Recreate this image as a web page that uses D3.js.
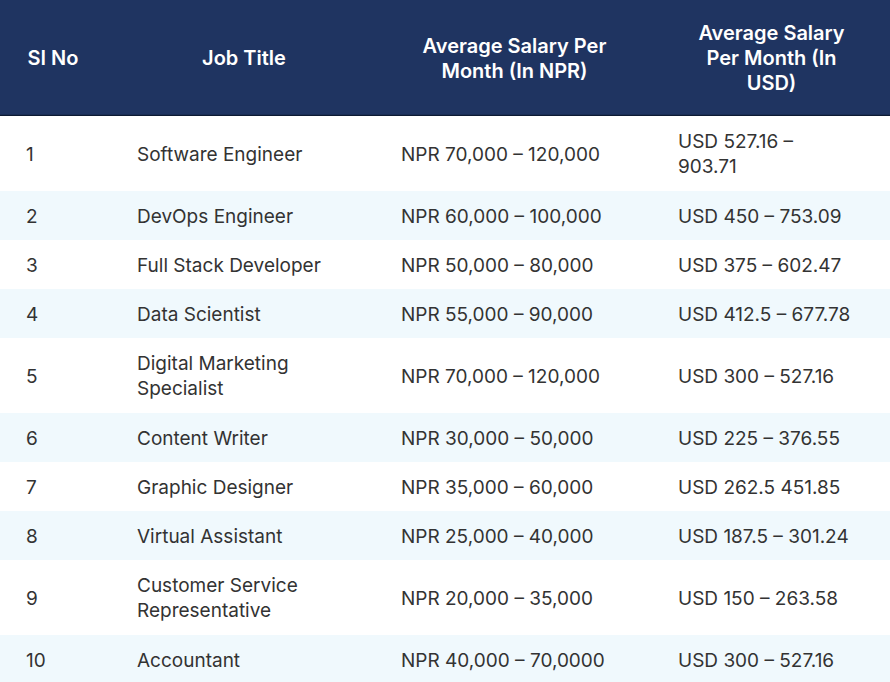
<!DOCTYPE html>
<html><head><meta charset="utf-8">
<script src="https://cdn.jsdelivr.net/npm/d3@7"></script>
<style>body{margin:0;background:#fff}</style></head>
<body><svg id="c" width="890" height="682"></svg>
<script>
const headers = ["SI No", "Job Title", "Average Salary Per\nMonth (In NPR)", "Average Salary\nPer Month (In\nUSD)"];
const siNo = ["1","2","3","4","5","6","7","8","9","10"];
const jobTitles = ["Software Engineer","DevOps Engineer","Full Stack Developer","Data Scientist","Digital Marketing\nSpecialist","Content Writer","Graphic Designer","Virtual Assistant","Customer Service\nRepresentative","Accountant"];
const npr = ["NPR 70,000 – 120,000","NPR 60,000 – 100,000","NPR 50,000 – 80,000","NPR 55,000 – 90,000","NPR 70,000 – 120,000","NPR 30,000 – 50,000","NPR 35,000 – 60,000","NPR 25,000 – 40,000","NPR 20,000 – 35,000","NPR 40,000 – 70,0000"];
const usd = ["USD 527.16 –\n903.71","USD 450 – 753.09","USD 375 – 602.47","USD 412.5 – 677.78","USD 300 – 527.16","USD 225 – 376.55","USD 262.5 451.85","USD 187.5 – 301.24","USD 150 – 263.58","USD 300 – 527.16"];

const colEdges = [0,112,376,653,890];
const textX = [26,137,401,678];
const svg = d3.select("#c");
const font = "Inter, 'Noto Sans', sans-serif";
const headerH = 116, lineH = 25;
const rows = siNo.map((s,i)=>[s, jobTitles[i], npr[i], usd[i]]);
const heights = rows.map(r => d3.max(r, c => c.split("\n").length) > 1 ? 75 : 49);
let y0 = headerH; const tops = heights.map(h => { const t = y0; y0 += h; return t; });

svg.append("rect").attr("width",890).attr("height",headerH).attr("fill","#1f3461");
svg.append("line").attr("x1",0).attr("x2",890).attr("y1",headerH-0.5).attr("y2",headerH-0.5).attr("stroke","#0d1a33").attr("stroke-width",1.5);
headers.forEach((h,j)=>{
  const lines = h.split("\n");
  const cx = (colEdges[j]+colEdges[j+1])/2;
  const t = svg.append("text").attr("font-family",font).attr("font-size",20).attr("font-weight",600)
    .attr("fill","#fff").attr("text-anchor","middle");
  lines.forEach((l,k)=>t.append("tspan").attr("x", j===0?53:cx)
    .attr("y", headerH/2 + (k-(lines.length-1)/2)*lineH + 7).text(l));
});

rows.forEach((r,i)=>{
  svg.append("rect").attr("x",0).attr("y",tops[i]).attr("width",890).attr("height",heights[i])
    .attr("fill", i%2 ? "#f0f9fd" : "#ffffff");
  r.forEach((c,j)=>{
    const lines = c.split("\n");
    const t = svg.append("text").attr("font-family",font).attr("font-size",19).attr("fill","#333");
    lines.forEach((l,k)=>t.append("tspan").attr("x",textX[j])
      .attr("y", tops[i]+heights[i]/2 + (k-(lines.length-1)/2)*lineH + 7).text(l));
  });
});
</script></body></html>
